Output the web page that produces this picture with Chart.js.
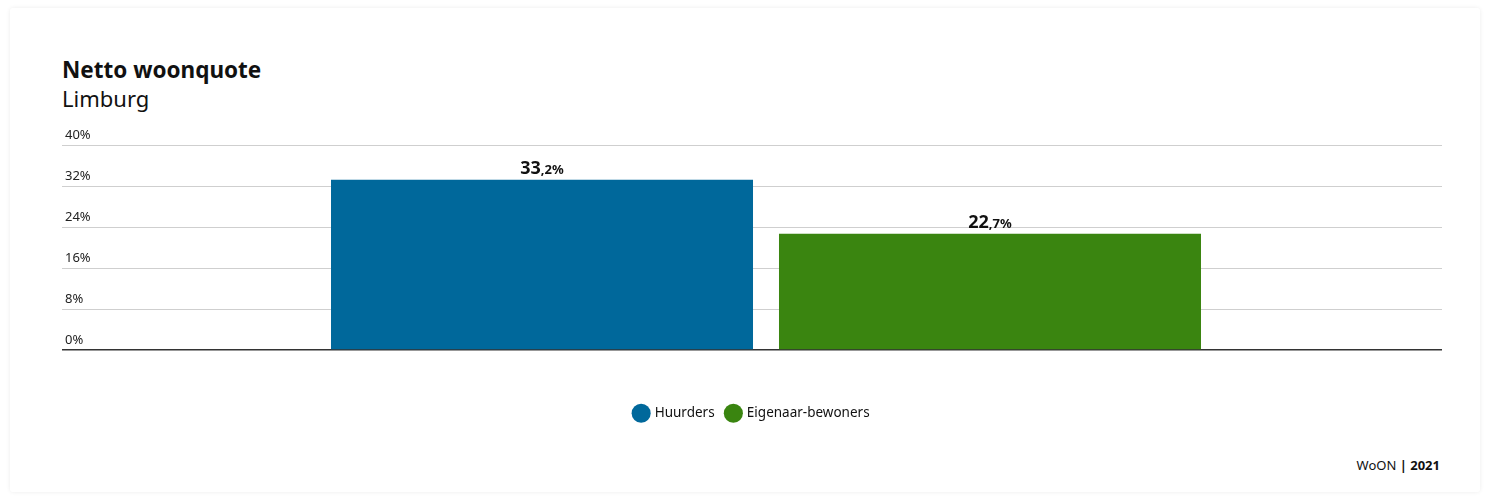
<!DOCTYPE html>
<html>
<head>
<meta charset="utf-8">
<script src="https://cdn.jsdelivr.net/npm/chart.js@4"></script>
<style>
  body { margin: 0; background: #fff; font-family: "Noto Sans", sans-serif; }
  .card {
    position: absolute; left: 10px; top: 8px; width: 1470px; height: 484px;
    background: #fff; box-shadow: 0 0 4px rgba(0,0,0,0.08); border-radius: 3px;
  }
  .title { position: absolute; left: 62px; top: 54px; font-size: 22.5px; font-weight: 700; color: #111; }
  .subtitle { position: absolute; left: 62px; top: 83px; font-size: 22px; color: #111; }
  .chart-box { position: absolute; left: 62px; top: 120px; width: 1380px; height: 310px; }
  .source { position: absolute; right: 46px; top: 456px; font-size: 13px; color: #111; }
</style>
</head>
<body>
<div class="card"></div>
<div class="title">Netto woonquote</div>
<div class="subtitle">Limburg</div>
<div class="chart-box"><canvas id="chart"></canvas></div>
<div class="source">WoON <b>| 2021</b></div>
<script>
  const categories = ['Limburg'];
  const seriesNames = ['Huurders', 'Eigenaar-bewoners'];
  const huurders = [33.2];
  const eigenaren = [22.7];
  const seriesColors = ['#00689b', '#3a8510'];
  const yTicks = [0, 8, 16, 24, 32, 40];

  // value labels above the bars: big integer part, small decimal part
  const valueLabels = {
    id: 'valueLabels',
    afterDatasetsDraw(chart) {
      const ctx = chart.ctx;
      chart.data.datasets.forEach((ds, i) => {
        chart.getDatasetMeta(i).data.forEach((bar, j) => {
          const parts = ds.data[j].toFixed(1).split('.');
          const big = parts[0];
          const small = ',' + parts[1] + '%';
          ctx.save();
          ctx.fillStyle = '#111';
          ctx.textBaseline = 'alphabetic';
          ctx.font = '700 18px "Noto Sans"';
          const w1 = ctx.measureText(big).width;
          ctx.font = '700 13px "Noto Sans"';
          const w2 = ctx.measureText(small).width;
          const x0 = bar.x - (w1 + w2) / 2;
          const y = bar.y - 6;
          ctx.font = '700 18px "Noto Sans"';
          ctx.fillText(big, x0, y);
          ctx.font = '700 13px "Noto Sans"';
          ctx.fillText(small, x0 + w1, y);
          ctx.restore();
        });
      });
    }
  };

  // y tick labels sit above their grid line, at the far left
  const yLabels = {
    id: 'yLabels',
    afterDraw(chart) {
      const ctx = chart.ctx;
      const y = chart.scales.y;
      ctx.save();
      ctx.fillStyle = '#222';
      ctx.font = '13px "Noto Sans"';
      ctx.textAlign = 'left';
      ctx.textBaseline = 'middle';
      yTicks.forEach(v => {
        ctx.fillText(v + '%', y.left + 3, y.getPixelForValue(v) - 10);
      });
      ctx.restore();
    }
  };

  new Chart(document.getElementById('chart'), {
    type: 'bar',
    data: {
      labels: categories,
      datasets: [
        { label: seriesNames[0], data: huurders, backgroundColor: seriesColors[0] },
        { label: seriesNames[1], data: eigenaren, backgroundColor: seriesColors[1] }
      ]
    },
    options: {
      responsive: true,
      maintainAspectRatio: false,
      animation: false,
      categoryPercentage: 0.6627,
      barPercentage: 0.942,
      layout: { padding: { top: 25, left: 0, right: 0, bottom: 0 } },
      plugins: {
        legend: {
          position: 'bottom',
          title: { display: true, text: '', padding: { top: 22, bottom: 0 } },
          labels: {
            usePointStyle: true,
            pointStyle: 'circle',
            boxWidth: 16,
            boxHeight: 16,
            padding: 12,
            color: '#111',
            font: { family: 'Noto Sans', size: 13.5 }
          }
        },
        tooltip: { enabled: false }
      },
      scales: {
        x: {
          grid: { display: false },
          ticks: { display: false },
          border: { display: false }
        },
        y: {
          min: 0,
          max: 40,
          ticks: { stepSize: 8, display: false },
          grid: {
            color: c => c.tick && c.tick.value === 0 ? '#333' : '#cfcfcf',
            lineWidth: c => c.tick && c.tick.value === 0 ? 1.5 : 1,
            drawTicks: true,
            tickLength: 28
          },
          border: { display: false }
        }
      }
    },
    plugins: [valueLabels, yLabels]
  });
</script>
</body>
</html>
